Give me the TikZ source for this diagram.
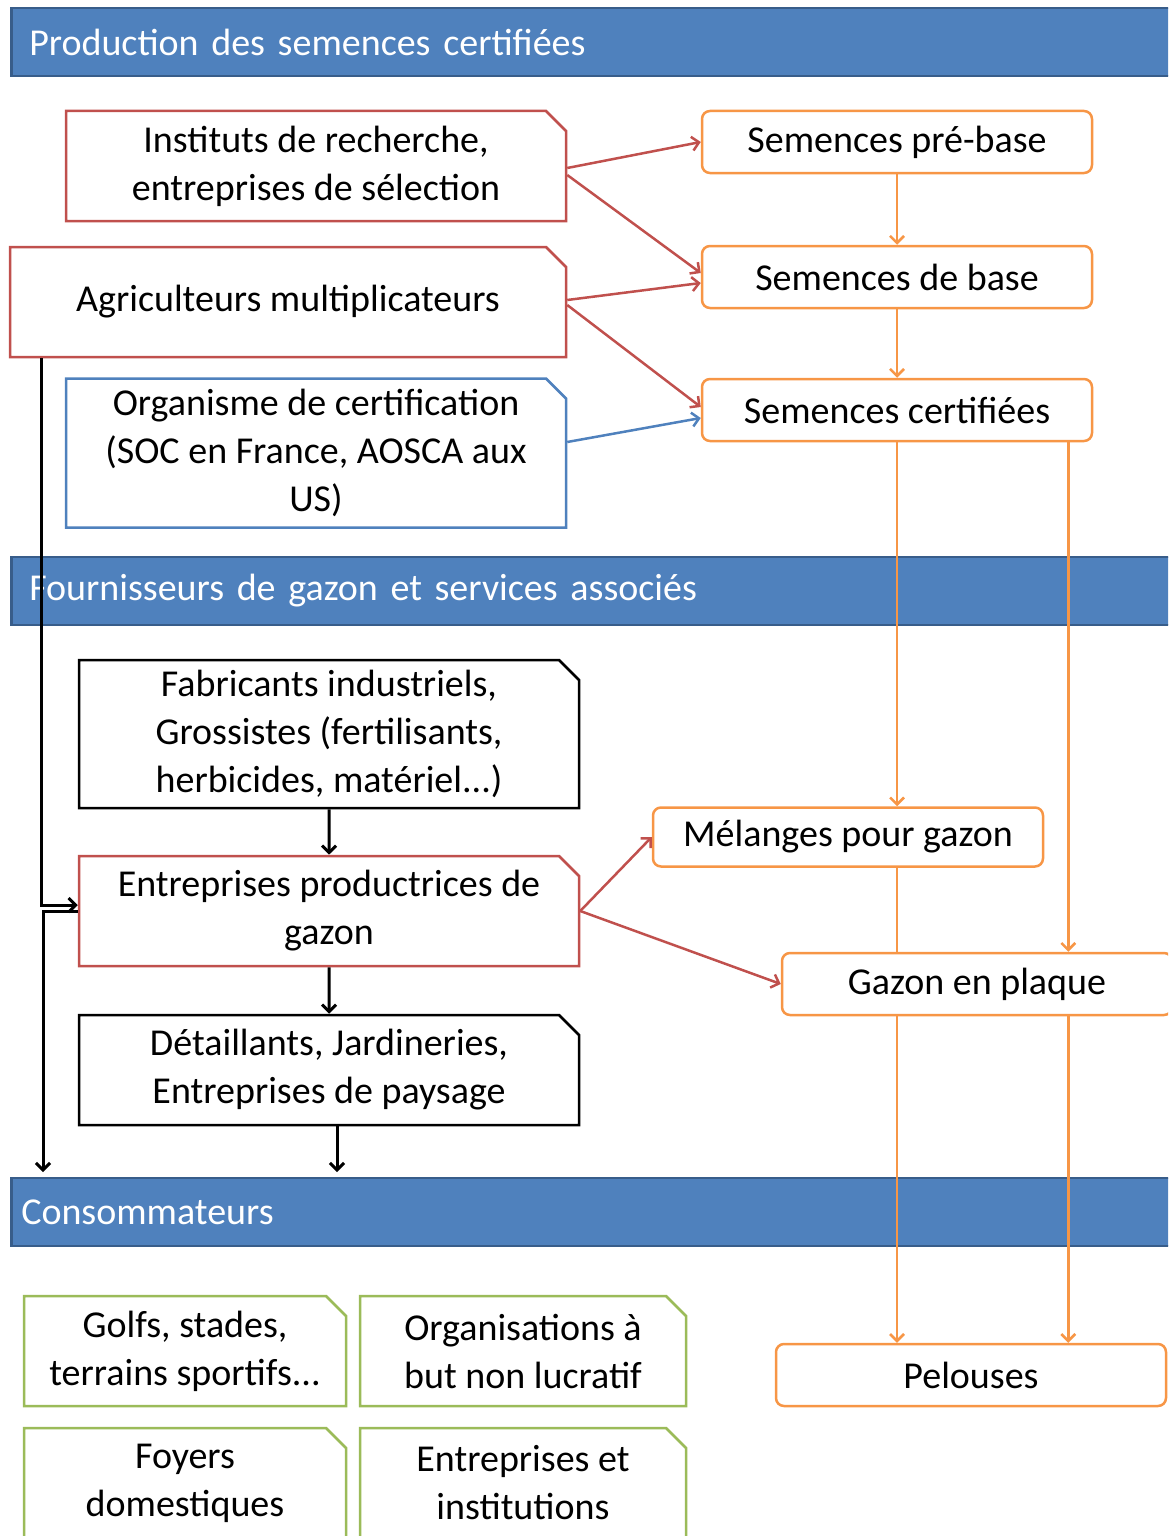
\documentclass[tikz,border=0pt]{standalone}
\usepackage{fontspec}
\setmainfont{Carlito}
\usetikzlibrary{arrows.meta, shapes.misc}
\definecolor{barblue}{HTML}{4F81BD}
\definecolor{barline}{HTML}{385D8A}
\definecolor{boxred}{HTML}{C0504D}
\definecolor{boxblue}{HTML}{4F81BD}
\definecolor{boxorange}{HTML}{F79646}
\definecolor{boxgreen}{HTML}{9BBB59}

\begin{document}
\begin{tikzpicture}[x=1pt, y=-1pt, >={Straight Barb[length=7pt, width=14pt]}, line width=2.5pt,
		every node/.style={font=\fontsize{38}{48}\selectfont, align=center, inner sep=0pt},
		bar/.style={fill=barblue, draw=barline, line width=2.5pt, text=white, anchor=west, minimum height=68pt, inner xsep=18pt, text width=1150pt, align=left},
		snipbox/.style={chamfered rectangle, chamfered rectangle corners=north east, chamfered rectangle sep=10pt, fill=white, line width=2.5pt},
		redbox/.style={snipbox, draw=boxred, minimum width=500pt, minimum height=110pt},
		blackbox/.style={snipbox, draw=black, minimum width=500pt, minimum height=110pt},
		greenbox/.style={snipbox, draw=boxgreen, minimum width=322pt, minimum height=110pt},
		seedbox/.style={draw=boxorange, fill=white, rounded corners=8pt, line width=2.5pt, minimum width=390pt, minimum height=62pt}]
		\clip (0, 0) rectangle (1168, 1536);
		
		% bandeaux
		\node[bar] (prod) at (10, 42) {Production des semences certifiées};
		\node[bar] (four) at (10, 591) {Fournisseurs de gazon et services associés};
		\node[bar, inner xsep=10pt] (cons) at (10, 1212) {Consommateurs};
		
		% production
		\node[redbox] (inst) at (316, 166) {Instituts de recherche,\\entreprises de sélection};
		\node[redbox, minimum width=556pt] (agri) at (288, 302) {Agriculteurs multiplicateurs};
		\node[snipbox, draw=boxblue, minimum width=500pt, minimum height=149pt] (orga) at (316, 453) {Organisme de certification\\(SOC en France, AOSCA aux\\US)};
		\node[seedbox] (preb) at (897, 142) {Semences pré-base};
		\node[seedbox] (base) at (897, 277) {Semences de base};
		\node[seedbox] (cert) at (897, 410) {Semences certifiées};
		
		% fournisseurs
		\node[blackbox, minimum height=148pt] (fabr) at (329, 734) {Fabricants industriels,\\Grossistes (fertilisants,\\herbicides, matériel...)};
		\node[redbox] (entr) at (329, 911) {Entreprises productrices de\\gazon};
		\node[blackbox] (deta) at (329, 1070) {Détaillants, Jardineries,\\Entreprises de paysage};
		\node[seedbox, minimum height=59pt] (mela) at (848, 837) {Mélanges pour gazon};
		\node[seedbox] (gazp) at (977, 984) {Gazon en plaque};
		
		% consommateurs
		\node[seedbox] (pelo) at (971, 1375) {Pelouses};
		\node[greenbox] (golf) at (185, 1351) {Golfs, stades,\\terrains sportifs...};
		\node[greenbox, minimum width=326pt] (orgn) at (523, 1351) {Organisations à\\but non lucratif};
		\node[greenbox] (foye) at (185, 1483) {Foyers\\domestiques};
		\node[greenbox, minimum width=326pt] (entp) at (523, 1483) {Entreprises et\\institutions};
		
		\coordinate (rail) at (43, 1172);
		
		\path[->, boxred] ([yshift=-2pt]inst.east) edge (preb.west)
			([yshift=-9pt]inst.east) edge ([yshift=4pt]base.west)
			([yshift=2pt]agri.east) edge ([yshift=-6pt]base.west)
			([yshift=-3pt]agri.east) edge ([yshift=3pt]cert.west)
			(entr.east) edge (mela.west)
			(entr.east) edge (gazp.west);
		\path[->, boxblue] ([yshift=11pt]orga.east) edge ([yshift=-8pt]cert.west);
		
		\path[->, boxorange] (preb) edge (base)
			(base) edge (cert)
			(cert.south) edge (cert.south |- mela.north)
			([xshift=-25pt]cert.south east) edge ([xshift=-25pt]cert.south east |- gazp.north)
			(cert.south |- gazp.south) edge (cert.south |- pelo.north)
			([xshift=-25pt]cert.south east |- gazp.south) edge ([xshift=-25pt]cert.south east |- pelo.north);
		\draw[boxorange] (cert.south |- mela.south) -- (cert.south |- gazp.north);
		
		\path[->, line width=3pt] (fabr) edge (entr)
			(entr) edge (deta)
			([xshift=8pt]deta.south) edge ([xshift=8pt]deta.south |- rail);
		\draw[->, line width=3pt] ([xshift=33pt]agri.south west) |- ([yshift=6pt]entr.west);
		\draw[->, line width=3pt] (entr.west) -| (rail);
	\end{tikzpicture}
\end{document}
